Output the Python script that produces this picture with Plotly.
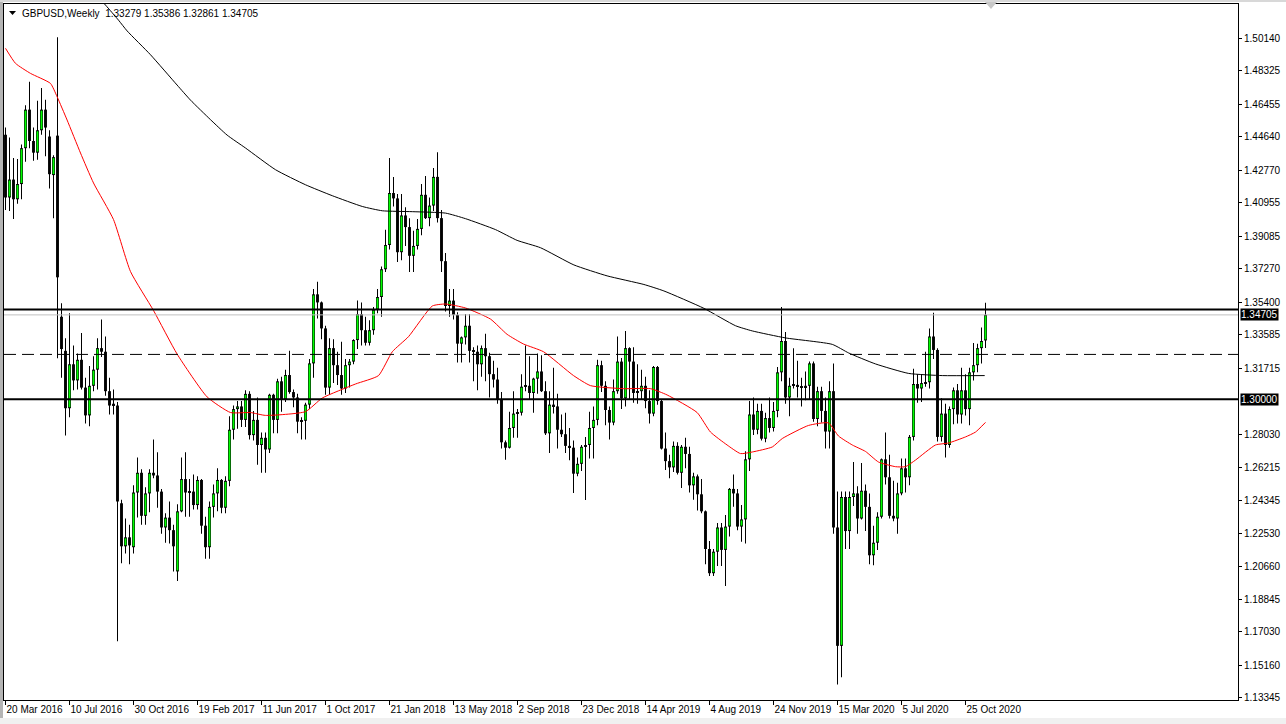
import pandas as pd
import plotly.graph_objects as go

# ---------------- data (GBPUSD weekly) ----------------
first_week = "2016-03-20"

opens = [
    1.4475, 1.4125, 1.4225, 1.4115, 1.4200, 1.4400, 1.4615, 1.4440, 1.4375, 1.4500,
    1.4615, 1.4465, 1.4250, 1.4470, 1.3460, 1.3270, 1.2950, 1.3195, 1.3105, 1.3220,
    1.3065, 1.2910, 1.3075, 1.3165, 1.3285, 1.3265, 1.3045, 1.2965, 1.2965, 1.2420,
    1.2180, 1.2230, 1.2175, 1.2480, 1.2590, 1.2350, 1.2475, 1.2590, 1.2575, 1.2485,
    1.2285, 1.2340, 1.2270, 1.2040, 1.2375, 1.2555, 1.2480, 1.2485, 1.2410, 1.2550,
    1.2295, 1.2175, 1.2400, 1.2475, 1.2550, 1.2395, 1.2545, 1.2830, 1.2945, 1.2960,
    1.2885, 1.3030, 1.2800, 1.2885, 1.2745, 1.2785, 1.2720, 1.3025, 1.2885, 1.3100,
    1.3000, 1.3135, 1.3040, 1.3010, 1.2875, 1.2880, 1.2970, 1.3200, 1.3585, 1.3540,
    1.3395, 1.3065, 1.3285, 1.3190, 1.3135, 1.3060, 1.3190, 1.3210, 1.3330, 1.3475,
    1.3385, 1.3315, 1.3385, 1.3500, 1.3570, 1.3725, 1.3860, 1.4150, 1.4120, 1.3820,
    1.4025, 1.3960, 1.3800, 1.3855, 1.3950, 1.4140, 1.4010, 1.4080, 1.4240, 1.4010,
    1.3770, 1.3520, 1.3550, 1.3470, 1.3310, 1.3345, 1.3410, 1.3270, 1.3265, 1.3195,
    1.3285, 1.3240, 1.3140, 1.3110, 1.3000, 1.2760, 1.2730, 1.2840, 1.2920, 1.2925,
    1.3070, 1.3075, 1.3035, 1.3115, 1.3155, 1.3045, 1.2810, 1.2970, 1.2960, 1.2830,
    1.2805, 1.2740, 1.2730, 1.2585, 1.2640, 1.2735, 1.2745, 1.2840, 1.2885, 1.3190,
    1.3075, 1.2940, 1.2870, 1.3045, 1.3210, 1.3005, 1.3285, 1.3210, 1.3035, 1.3045,
    1.3075, 1.2990, 1.2920, 1.3180, 1.2990, 1.2725, 1.2655, 1.2620, 1.2740, 1.2590,
    1.2735, 1.2695, 1.2520, 1.2570, 1.2470, 1.2375, 1.2165, 1.2030, 1.2150, 1.2285,
    1.2160, 1.2290, 1.2500, 1.2475, 1.2290, 1.2330, 1.2665, 1.2915, 1.2830, 1.2935,
    1.2780, 1.2895, 1.2840, 1.2935, 1.3150, 1.3325, 1.3010, 1.3075, 1.3080, 1.3070,
    1.3065, 1.3075, 1.3200, 1.2890, 1.3045, 1.2935, 1.2820, 1.3045, 1.2285, 1.1625,
    1.2455, 1.2265, 1.2455, 1.2475, 1.2335, 1.2490, 1.2400, 1.2130, 1.2200, 1.2345,
    1.2665, 1.2565, 1.2350, 1.2335, 1.2475, 1.2615, 1.2565, 1.2790, 1.3085, 1.3060,
    1.3090, 1.3095, 1.3350, 1.3275, 1.2790, 1.2920, 1.2745, 1.2945, 1.3050, 1.2915,
    1.3050, 1.2945, 1.3150, 1.3190, 1.3285, 1.33279,
]

highs = [
    1.4515, 1.4460, 1.4345, 1.4340, 1.4420, 1.4640, 1.4770, 1.4515, 1.4665, 1.4735,
    1.4670, 1.4500, 1.4360, 1.5018, 1.3535, 1.3340, 1.3480, 1.3300, 1.3255, 1.3370,
    1.3120, 1.3185, 1.3240, 1.3340, 1.3445, 1.3350, 1.3120, 1.3055, 1.2985, 1.2440,
    1.2335, 1.2300, 1.2520, 1.2675, 1.2610, 1.2510, 1.2610, 1.2775, 1.2705, 1.2500,
    1.2365, 1.2430, 1.2300, 1.2415, 1.2675, 1.2705, 1.2555, 1.2580, 1.2570, 1.2555,
    1.2345, 1.2430, 1.2525, 1.2615, 1.2555, 1.2570, 1.2905, 1.2965, 1.2990, 1.2990,
    1.3050, 1.3045, 1.2935, 1.3010, 1.2815, 1.2815, 1.3030, 1.3030, 1.3115, 1.3125,
    1.3165, 1.3270, 1.3055, 1.3030, 1.2900, 1.2980, 1.3225, 1.3615, 1.3655, 1.3545,
    1.3410, 1.3340, 1.3335, 1.3265, 1.3320, 1.3225, 1.3225, 1.3335, 1.3550, 1.3540,
    1.3460, 1.3440, 1.3515, 1.3615, 1.3740, 1.3945, 1.4345, 1.4240, 1.4145, 1.4145,
    1.4070, 1.4010, 1.3940, 1.4005, 1.4200, 1.4245, 1.4125, 1.4290, 1.4377, 1.4055,
    1.3815, 1.3615, 1.3615, 1.3485, 1.3350, 1.3475, 1.3475, 1.3290, 1.3300, 1.3300,
    1.3365, 1.3260, 1.3215, 1.3175, 1.3040, 1.2770, 1.2930, 1.3045, 1.2945, 1.3140,
    1.3300, 1.3240, 1.3120, 1.3255, 1.3245, 1.3100, 1.3045, 1.3175, 1.3030, 1.2915,
    1.2925, 1.2840, 1.2770, 1.2675, 1.2745, 1.2790, 1.2930, 1.2960, 1.3220, 1.3215,
    1.3100, 1.2960, 1.3110, 1.3350, 1.3230, 1.3380, 1.3290, 1.3290, 1.3195, 1.3165,
    1.3125, 1.3050, 1.3185, 1.3185, 1.3000, 1.2815, 1.2690, 1.2765, 1.2760, 1.2745,
    1.2785, 1.2735, 1.2590, 1.2580, 1.2555, 1.2380, 1.2210, 1.2165, 1.2310, 1.2310,
    1.2355, 1.2505, 1.2580, 1.2500, 1.2410, 1.2710, 1.2990, 1.3010, 1.2975, 1.2975,
    1.2925, 1.3010, 1.2985, 1.3180, 1.3515, 1.3375, 1.3120, 1.3285, 1.3215, 1.3120,
    1.3155, 1.3210, 1.3210, 1.3070, 1.3070, 1.3010, 1.3100, 1.3200, 1.2485, 1.2485,
    1.2485, 1.2485, 1.2650, 1.2515, 1.2645, 1.2525, 1.2475, 1.2295, 1.2370, 1.2670,
    1.2815, 1.2690, 1.2545, 1.2535, 1.2670, 1.2670, 1.2800, 1.3170, 1.3140, 1.3140,
    1.3265, 1.3395, 1.3482, 1.3285, 1.3005, 1.2975, 1.2960, 1.3065, 1.3085, 1.3175,
    1.3140, 1.3175, 1.3313, 1.3310, 1.3400, 1.35386,
]

lows = [
    1.4055, 1.4050, 1.4005, 1.4090, 1.4115, 1.4325, 1.4400, 1.4330, 1.4335, 1.4475,
    1.4355, 1.4175, 1.4010, 1.3229, 1.3120, 1.2798, 1.2900, 1.3050, 1.3055, 1.3055,
    1.2865, 1.2850, 1.3045, 1.3055, 1.3235, 1.3020, 1.2915, 1.2915, 1.1650, 1.2085,
    1.2140, 1.2080, 1.2140, 1.2340, 1.2300, 1.2300, 1.2370, 1.2560, 1.2395, 1.2250,
    1.2200, 1.2195, 1.2040, 1.1987, 1.2370, 1.2345, 1.2345, 1.2385, 1.2385, 1.2250,
    1.2110, 1.2110, 1.2340, 1.2375, 1.2365, 1.2365, 1.2515, 1.2775, 1.2835, 1.2845,
    1.2845, 1.2775, 1.2770, 1.2635, 1.2590, 1.2590, 1.2700, 1.2810, 1.2810, 1.2930,
    1.2985, 1.3030, 1.2955, 1.2810, 1.2775, 1.2775, 1.2945, 1.3120, 1.3450, 1.3335,
    1.3025, 1.3025, 1.3090, 1.3080, 1.3025, 1.3035, 1.3065, 1.3195, 1.3280, 1.3300,
    1.3300, 1.3300, 1.3360, 1.3480, 1.3460, 1.3710, 1.3835, 1.4075, 1.3765, 1.3775,
    1.3855, 1.3710, 1.3710, 1.3835, 1.3915, 1.4005, 1.3965, 1.4050, 1.3985, 1.3710,
    1.3490, 1.3460, 1.3445, 1.3205, 1.3205, 1.3305, 1.3205, 1.3100, 1.3050, 1.3125,
    1.3100, 1.3010, 1.3065, 1.2975, 1.2725, 1.2662, 1.2725, 1.2785, 1.2785, 1.2910,
    1.3045, 1.3000, 1.2925, 1.3030, 1.3040, 1.2800, 1.2700, 1.2920, 1.2725, 1.2790,
    1.2700, 1.2660, 1.2477, 1.2570, 1.2600, 1.2438, 1.2670, 1.2670, 1.2855, 1.3040,
    1.2855, 1.2775, 1.2855, 1.3030, 1.2945, 1.2960, 1.3000, 1.2980, 1.2975, 1.3000,
    1.2950, 1.2865, 1.2905, 1.2970, 1.2720, 1.2605, 1.2560, 1.2595, 1.2580, 1.2505,
    1.2615, 1.2480, 1.2440, 1.2380, 1.2365, 1.2080, 1.2015, 1.2015, 1.2070, 1.2070,
    1.1958, 1.2235, 1.2400, 1.2270, 1.2205, 1.2195, 1.2600, 1.2800, 1.2805, 1.2770,
    1.2760, 1.2815, 1.2820, 1.2900, 1.3100, 1.2975, 1.2905, 1.3060, 1.3010, 1.2960,
    1.2995, 1.3000, 1.2875, 1.2850, 1.2870, 1.2725, 1.2725, 1.2250, 1.1409, 1.1450,
    1.2165, 1.2165, 1.2405, 1.2250, 1.2330, 1.2265, 1.2080, 1.2075, 1.2160, 1.2335,
    1.2525, 1.2335, 1.2320, 1.2250, 1.2465, 1.2480, 1.2520, 1.2770, 1.2980, 1.2985,
    1.3070, 1.3060, 1.3225, 1.2765, 1.2765, 1.2675, 1.2730, 1.2860, 1.2865, 1.2865,
    1.2910, 1.2855, 1.3105, 1.3150, 1.3200, 1.32861,
]

closes = [
    1.4125, 1.4225, 1.4115, 1.4200, 1.4400, 1.4615, 1.4440, 1.4375, 1.4500, 1.4615,
    1.4515, 1.4255, 1.4350, 1.3680, 1.3280, 1.2950, 1.3195, 1.3105, 1.3220, 1.3065,
    1.2910, 1.3075, 1.3165, 1.3285, 1.3265, 1.3045, 1.2965, 1.2975, 1.2430, 1.2180,
    1.2230, 1.2185, 1.2480, 1.2590, 1.2350, 1.2475, 1.2590, 1.2575, 1.2485, 1.2285,
    1.2340, 1.2270, 1.2180, 1.2375, 1.2555, 1.2480, 1.2485, 1.2410, 1.2550, 1.2295,
    1.2175, 1.2400, 1.2475, 1.2550, 1.2395, 1.2545, 1.2830, 1.2945, 1.2960, 1.2885,
    1.3030, 1.2800, 1.2885, 1.2745, 1.2785, 1.2720, 1.3025, 1.2885, 1.3100, 1.3000,
    1.3135, 1.3040, 1.3010, 1.2875, 1.2880, 1.2970, 1.3200, 1.3585, 1.3540, 1.3395,
    1.3065, 1.3285, 1.3190, 1.3135, 1.3060, 1.3190, 1.3210, 1.3330, 1.3475, 1.3385,
    1.3315, 1.3385, 1.3500, 1.3570, 1.3725, 1.3860, 1.4150, 1.4120, 1.3820, 1.4025,
    1.3960, 1.3800, 1.3855, 1.3950, 1.4140, 1.4010, 1.4080, 1.4240, 1.4010, 1.3770,
    1.3520, 1.3550, 1.3470, 1.3310, 1.3345, 1.3410, 1.3270, 1.3265, 1.3195, 1.3285,
    1.3240, 1.3140, 1.3110, 1.3000, 1.2760, 1.2730, 1.2840, 1.2920, 1.2925, 1.3070,
    1.3075, 1.3035, 1.3115, 1.3155, 1.3045, 1.2810, 1.2970, 1.2960, 1.2830, 1.2805,
    1.2740, 1.2730, 1.2585, 1.2640, 1.2735, 1.2745, 1.2840, 1.2885, 1.3190, 1.3075,
    1.2940, 1.2870, 1.3045, 1.3210, 1.3005, 1.3285, 1.3210, 1.3035, 1.3045, 1.3075,
    1.2990, 1.2920, 1.3180, 1.2990, 1.2725, 1.2655, 1.2620, 1.2740, 1.2590, 1.2735,
    1.2695, 1.2520, 1.2570, 1.2470, 1.2375, 1.2165, 1.2030, 1.2150, 1.2285, 1.2160,
    1.2290, 1.2500, 1.2475, 1.2290, 1.2330, 1.2665, 1.2915, 1.2830, 1.2935, 1.2780,
    1.2895, 1.2840, 1.2935, 1.3150, 1.3325, 1.3010, 1.3075, 1.3080, 1.3070, 1.3065,
    1.3075, 1.3200, 1.2890, 1.3045, 1.2935, 1.2820, 1.3045, 1.2285, 1.1625, 1.2455,
    1.2265, 1.2455, 1.2475, 1.2335, 1.2490, 1.2400, 1.2130, 1.2200, 1.2345, 1.2665,
    1.2565, 1.2350, 1.2335, 1.2475, 1.2615, 1.2565, 1.2790, 1.3085, 1.3060, 1.3090,
    1.3095, 1.3350, 1.3275, 1.2790, 1.2920, 1.2745, 1.2945, 1.3050, 1.2915, 1.3050,
    1.2945, 1.3150, 1.3190, 1.3285, 1.3325, 1.34705,
]

# moving averages (week index from first_week, price)
ma50_week = [0, 2.5, 6.25, 11.25, 12.9, 15.4, 18.75, 22, 27, 31.25, 37, 42.9, 50.4,
             56.25, 61.25, 65, 75, 79.2, 87.5, 93.25, 96.7, 100.75, 106.7, 110, 115,
             121.25, 125.4, 129.5, 134.5, 142, 146.25, 154.5, 161.25, 165.4, 172.9,
             176.25, 180.4, 183.75, 186.7, 191.7, 194.2, 200.75, 205.75, 208.25,
             211.7, 215, 218.25, 222.5, 225, 227.5, 232.5, 235.75, 240, 242.5, 245]
ma50_val = [1.4957, 1.4873, 1.4817, 1.4761, 1.4687, 1.4557, 1.4373, 1.4206, 1.4002,
            1.3712, 1.3495, 1.3252, 1.3013, 1.2926, 1.2926, 1.2910, 1.2931, 1.3007,
            1.3085, 1.3132, 1.3265, 1.3349, 1.3520, 1.3531, 1.3509, 1.3447, 1.3362,
            1.3308, 1.3265, 1.3132, 1.3076, 1.3059, 1.3059, 1.3024, 1.2926, 1.2817,
            1.2745, 1.2697, 1.2706, 1.2734, 1.2781, 1.2854, 1.2868, 1.2795, 1.2745,
            1.2709, 1.2650, 1.2624, 1.2624, 1.2661, 1.2745, 1.2756, 1.2790, 1.2817,
            1.2871]

ma200_week = [22, 25, 28.25, 30.4, 36.25, 42.9, 46.25, 51.25, 55.4, 60, 67.5, 75,
              81.7, 89.2, 94.2, 101.7, 110, 115, 122.5, 127.9, 133.75, 142.1, 150.4,
              159.6, 164.6, 174.6, 182.5, 186.7, 195, 206.7, 210.8, 217.5, 225.8,
              234.2, 244.8]
ma200_val = [1.5270, 1.5198, 1.5114, 1.5054, 1.4921, 1.4752, 1.4668, 1.4559, 1.4473,
             1.4401, 1.4280, 1.4196, 1.4135, 1.4075, 1.4051, 1.4046, 1.4038, 1.4007,
             1.3946, 1.3886, 1.3845, 1.3749, 1.3688, 1.3640, 1.3604, 1.3507, 1.3410,
             1.3381, 1.3342, 1.3306, 1.3258, 1.3197, 1.3144, 1.3132, 1.3132]

levels_solid = [1.35, 1.30]
level_dashed = 1.325
bid_price = 1.34705

x_tick_labels = ["20 Mar 2016", "10 Jul 2016", "30 Oct 2016", "19 Feb 2017",
                 "11 Jun 2017", "1 Oct 2017", "21 Jan 2018", "13 May 2018",
                 "2 Sep 2018", "23 Dec 2018", "14 Apr 2019", "4 Aug 2019",
                 "24 Nov 2019", "15 Mar 2020", "5 Jul 2020", "25 Oct 2020"]
y_tick_labels = ["1.50140", "1.48325", "1.46455", "1.44640", "1.42770", "1.40955",
                 "1.39085", "1.37270", "1.35400", "1.33585", "1.31715", "1.28030",
                 "1.26215", "1.24345", "1.22530", "1.20660", "1.18845", "1.17030",
                 "1.15160", "1.13345"]

header = "GBPUSD,Weekly  1.33279 1.35386 1.32861 1.34705"

# ---------------- figure ----------------
W, H = 1286, 724
PL, PR, PT, PB = 4, 1238, 4, 700   # plot area pixel box
Y_MIN, Y_MAX = 1.1323, 1.5204
WEEKS_SHOWN = 308.5                # 4 px per week
WEEK_OFFSET = 0.375                # bar centres land on half pixels


def px_x(px):
    return (px - PL) / (PR - PL)


def px_y(py):
    return (PB - py) / (PB - PT)


start = pd.Timestamp(first_week)
dates = pd.date_range(start, periods=len(closes), freq="7D")


def week_date(w):
    return start + pd.to_timedelta(w * 7, unit="D")


# pixel sizes expressed in axis units (for crisp MT4-like candles)
MS_PER_PX = WEEKS_SHOWN * 7 * 86400000 / (PR - PL)
PRICE_PER_PX = (Y_MAX - Y_MIN) / (PB - PT)

body_base = [min(o, c) for o, c in zip(opens, closes)]
body_size = [max(abs(c - o), 0.3 * PRICE_PER_PX) for o, c in zip(opens, closes)]
wick_size = [h - l for h, l in zip(highs, lows)]

# lime core of rising candles, as thin vertical segments
inner_x, inner_y = [], []
for d, o, c in zip(dates, opens, closes):
    if c - o > 2.2 * PRICE_PER_PX:
        inner_x += [d, d, None]
        inner_y += [o + PRICE_PER_PX, c - PRICE_PER_PX, None]

FONT = "Liberation Sans"

fig = go.Figure()
fig.add_trace(go.Bar(x=dates, y=wick_size, base=lows, width=0.9 * MS_PER_PX,
                     marker=dict(color="black", line=dict(width=0)),
                     hoverinfo="skip", showlegend=False))
fig.add_trace(go.Bar(x=dates, y=body_size, base=body_base, width=2.9 * MS_PER_PX,
                     marker=dict(color="black", line=dict(width=0)),
                     hoverinfo="skip", showlegend=False))
fig.add_trace(go.Scatter(x=inner_x, y=inner_y, mode="lines", connectgaps=False,
                         line=dict(color="#00ff00", width=1.8),
                         hoverinfo="skip", showlegend=False))

fig.add_trace(go.Scatter(
    x=[week_date(w) for w in ma200_week], y=ma200_val, mode="lines",
    line=dict(color="black", width=1, shape="spline", smoothing=0.5),
    hoverinfo="skip", showlegend=False))
fig.add_trace(go.Scatter(
    x=[week_date(w) for w in ma50_week], y=ma50_val, mode="lines",
    line=dict(color="#ff0000", width=1, shape="spline", smoothing=0.5),
    hoverinfo="skip", showlegend=False))

shapes = []
shapes.append(dict(type="line", xref="paper", yref="y", x0=0, x1=1,
                   y0=bid_price, y1=bid_price, line=dict(color="#c0c0c0", width=1)))
for lv in levels_solid:
    shapes.append(dict(type="line", xref="paper", yref="y", x0=0, x1=1,
                       y0=lv, y1=lv, line=dict(color="black", width=2)))
shapes.append(dict(type="line", xref="paper", yref="y", x0=0, x1=1,
                   y0=level_dashed, y1=level_dashed,
                   line=dict(color="black", width=1, dash="12px,6px")))
# window chrome
shapes.append(dict(type="rect", xref="paper", yref="paper", layer="above",
                   x0=px_x(0), x1=px_x(3), y0=px_y(H), y1=px_y(0),
                   fillcolor="#b4b4b4", line=dict(width=0)))
shapes.append(dict(type="rect", xref="paper", yref="paper", layer="above",
                   x0=px_x(0), x1=px_x(W), y0=px_y(H), y1=px_y(718),
                   fillcolor="#f0f0f0", line=dict(width=0)))
shapes.append(dict(type="rect", xref="paper", yref="paper", layer="above",
                   x0=px_x(0), x1=px_x(W), y0=px_y(2), y1=px_y(0),
                   fillcolor="#d8d8d8", line=dict(width=0)))
shapes.append(dict(type="path", xref="paper", yref="paper", layer="above",
                   path=f"M {px_x(985)} {px_y(2)} L {px_x(997)} {px_y(2)} L {px_x(991)} {px_y(9)} Z",
                   fillcolor="#c8c8c8", line=dict(width=0)))
shapes.append(dict(type="path", xref="paper", yref="paper", layer="above",
                   path=f"M {px_x(9)} {px_y(11)} L {px_x(16)} {px_y(11)} L {px_x(12.5)} {px_y(15)} Z",
                   fillcolor="black", line=dict(width=0)))

annotations = [
    dict(xref="paper", yref="paper", x=px_x(20), y=px_y(13), text=header,
         showarrow=False, xanchor="left", yanchor="middle",
         font=dict(family=FONT, size=10, color="black")),
]
for val, txt in [(bid_price, "1.34705"), (1.30, "1.30000")]:
    annotations.append(dict(xref="paper", yref="y", x=1, y=val, text=txt,
                            showarrow=False, xanchor="left", yanchor="middle",
                            xshift=2, bgcolor="black", borderpad=0,
                            font=dict(family=FONT, size=10, color="white")))

fig.update_layout(
    width=W, height=H,
    margin=dict(l=PL, r=W - PR, t=PT, b=H - PB, autoexpand=False),
    paper_bgcolor="white", plot_bgcolor="white",
    showlegend=False, barmode="overlay",
    shapes=shapes, annotations=annotations,
    xaxis=dict(
        type="date",
        range=[start - pd.Timedelta(days=WEEK_OFFSET * 7),
               start + pd.Timedelta(days=(WEEKS_SHOWN - WEEK_OFFSET) * 7)],
        showgrid=False, zeroline=False, automargin=False,
        tickvals=pd.to_datetime(x_tick_labels, format="%d %b %Y"),
        ticktext=x_tick_labels, tickangle=0,
        ticks="outside", ticklen=4, tickcolor="black", tickwidth=1,
        ticklabelposition="outside right",
        tickfont=dict(family=FONT, size=10, color="black"),
        showline=True, linecolor="black", linewidth=1, mirror=True,
    ),
    yaxis=dict(
        side="right",
        range=[Y_MIN, Y_MAX],
        showgrid=False, zeroline=False, automargin=False,
        tickvals=[float(t) for t in y_tick_labels],
        ticktext=y_tick_labels,
        ticks="outside", ticklen=3, tickcolor="black", tickwidth=1,
        tickfont=dict(family=FONT, size=10, color="black"),
        showline=True, linecolor="black", linewidth=1, mirror=True,
    ),
)

fig.write_html(
    "out.html",
    config={"displayModeBar": False},
    post_script="document.body.style.margin='0';document.body.style.padding='0';"
                "document.documentElement.style.overflow='hidden';",
)
